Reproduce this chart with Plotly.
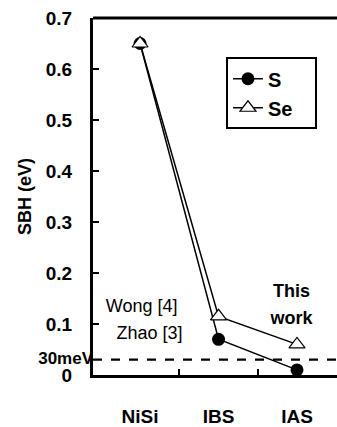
import plotly.graph_objects as go

categories = ["NiSi", "IBS", "IAS"]
sbh_s = [0.65, 0.07, 0.01]
sbh_se = [0.65, 0.115, 0.06]
y_ticks = [0, 0.1, 0.2, 0.3, 0.4, 0.5, 0.6, 0.7]
y_ticktext = ["0", "0.1", "0.2", "0.3", "0.4", "0.5", "0.6", "0.7"]
threshold = 0.03
note_text = ["Wong [4]", "Zhao [3]", "<b>This</b>", "<b>work</b>"]
note_x = [0.02, 0.12, 1.93, 1.93]
note_y = [0.133, 0.080, 0.161, 0.108]

xpos = list(range(len(categories)))
between = [0.5, 1.5]
FONT = "Liberation Sans"
X_MIN, X_MAX = -0.6, 2.51

fig = go.Figure()
fig.add_trace(go.Scatter(
    x=xpos, y=sbh_s, name="S", mode="lines+markers",
    line=dict(color="black", width=1.5),
    marker=dict(symbol="circle", size=13, color="black"),
))
fig.add_trace(go.Scatter(
    x=xpos, y=sbh_se, name="Se\u00a0\u00a0\u00a0", mode="lines+markers",
    line=dict(color="black", width=1.5),
    marker=dict(symbol="triangle-up", size=14, color="white",
                line=dict(color="black", width=1.2)),
))
# text notes drawn as a text trace
fig.add_trace(go.Scatter(
    x=note_x, y=note_y, text=note_text, mode="text", showlegend=False,
    hoverinfo="skip", textfont=dict(family=FONT, size=18, color="black"),
))
# 30meV label left of the axis
fig.add_trace(go.Scatter(
    x=[X_MIN], y=[threshold], text=["<b>30meV</b>"], mode="text",
    textposition="middle left", cliponaxis=False, showlegend=False,
    hoverinfo="skip", textfont=dict(family=FONT, size=17, color="black"),
))

fig.add_hline(y=threshold, line=dict(color="black", width=2.2, dash="dash"))
fig.add_shape(type="line", xref="paper", yref="paper", x0=0, x1=1, y0=1, y1=1,
              line=dict(color="black", width=3))

fig.update_layout(
    width=337, height=427,
    margin=dict(l=93, r=0, t=18, b=46),
    paper_bgcolor="white", plot_bgcolor="rgba(0,0,0,0)",
    showlegend=True,
    legend=dict(x=0.545, y=0.89, xanchor="left", yanchor="top",
                bordercolor="black", borderwidth=2, bgcolor="white",
                font=dict(family=FONT, size=20, color="black", weight="bold")),
    xaxis=dict(
        range=[X_MIN, X_MAX], tickmode="array", tickvals=xpos, ticktext=categories,
        ticks="", showgrid=False, zeroline=False,
        showline=True, linecolor="black", linewidth=3,
        tickfont=dict(family=FONT, size=19, color="black", weight="bold"),
        ticklabelstandoff=22,
        minor=dict(tickmode="array", tickvals=between, ticks="inside",
                   ticklen=6, tickwidth=2, tickcolor="black", showgrid=False),
    ),
    yaxis=dict(
        range=[0, 0.7], tickmode="array", tickvals=y_ticks, ticktext=y_ticktext,
        ticks="inside", ticklen=6, tickwidth=2, tickcolor="black",
        showgrid=False, zeroline=False,
        showline=True, linecolor="black", linewidth=3,
        tickfont=dict(family=FONT, size=19, color="black", weight="bold"),
        ticklabelstandoff=14,
        title=dict(text="SBH (eV)", standoff=10,
                   font=dict(family=FONT, size=18, color="black", weight="bold")),
    ),
)

fig.write_html("out.html", config={"displayModeBar": False},
               post_script="document.body.style.margin='0';document.body.style.overflow='hidden';")
